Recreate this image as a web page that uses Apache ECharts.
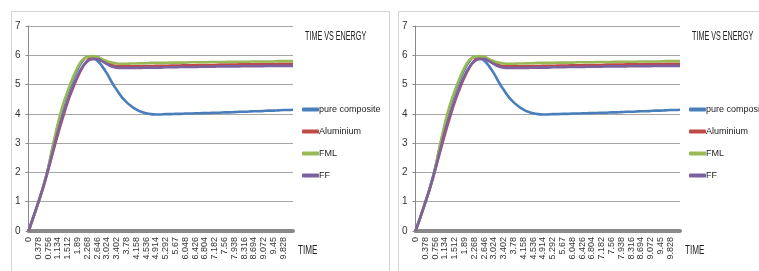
<!DOCTYPE html>
<html>
<head>
<meta charset="utf-8">
<script src="https://cdn.jsdelivr.net/npm/echarts@6/dist/echarts.min.js"></script>
<style>
  html, body { margin: 0; padding: 0; background: #fff; width: 759px; height: 271px; overflow: hidden; }
  .panel { position: absolute; top: 11px; height: 262px; border: 1px solid #d4d4d4; box-sizing: border-box; }
  #left { left: 11px; width: 379px; }
  #right { left: 398px; width: 375px; }
</style>
</head>
<body>
<div class="panel" id="left"></div>
<div class="panel" id="right"></div>
<script>
(function() {
  // time steps (x categories)
  var times = [
    "0", "0.189", "0.378", "0.567", "0.756", "0.945", "1.134", "1.323", "1.512", "1.701",
    "1.89", "2.079", "2.268", "2.457", "2.646", "2.835", "3.024", "3.213", "3.402", "3.591",
    "3.78", "3.969", "4.158", "4.347", "4.536", "4.725", "4.914", "5.103", "5.292", "5.481",
    "5.67", "5.859", "6.048", "6.237", "6.426", "6.615", "6.804", "6.993", "7.182", "7.371",
    "7.56", "7.749", "7.938", "8.127", "8.316", "8.505", "8.694", "8.883", "9.072", "9.261",
    "9.45", "9.639", "9.828", "10.017", "10.206"
  ];

  var pureComposite = [
    0, 0.48, 0.98, 1.52, 2.15, 2.9, 3.6, 4.22, 4.72, 5.15,
    5.52, 5.8, 5.94, 5.94, 5.82, 5.63, 5.38, 5.08, 4.82, 4.58,
    4.4, 4.26, 4.15, 4.07, 4.02, 3.99, 3.98, 3.98, 3.99, 3.99,
    4.0, 4.0, 4.01, 4.01, 4.02, 4.02, 4.03, 4.03, 4.04, 4.04,
    4.05, 4.05, 4.06, 4.07, 4.07, 4.08, 4.09, 4.09, 4.1, 4.11,
    4.11, 4.12, 4.13, 4.13, 4.14
  ];
  var aluminium = [
    0, 0.48, 0.98, 1.5, 2.08, 2.7, 3.3, 3.87, 4.4, 4.85,
    5.25, 5.58, 5.82, 5.93, 5.93, 5.85, 5.75, 5.67, 5.63, 5.62,
    5.62, 5.62, 5.62, 5.63, 5.63, 5.63, 5.64, 5.64, 5.64, 5.65,
    5.65, 5.65, 5.66, 5.66, 5.66, 5.67, 5.67, 5.67, 5.67, 5.68,
    5.68, 5.68, 5.68, 5.69, 5.69, 5.69, 5.69, 5.7, 5.7, 5.7,
    5.7, 5.71, 5.71, 5.71, 5.71
  ];
  var fml = [
    0, 0.48, 0.98, 1.52, 2.15, 2.95, 3.68, 4.3, 4.78, 5.22,
    5.58, 5.84, 5.95, 5.97, 5.94, 5.87, 5.8, 5.75, 5.72, 5.71,
    5.71, 5.72, 5.72, 5.73, 5.73, 5.74, 5.74, 5.74, 5.74, 5.75,
    5.75, 5.75, 5.75, 5.76, 5.76, 5.76, 5.76, 5.77, 5.77, 5.77,
    5.77, 5.78, 5.78, 5.78, 5.78, 5.78, 5.79, 5.79, 5.79, 5.79,
    5.79, 5.8, 5.8, 5.8, 5.8
  ];
  var ff = [
    0, 0.48, 0.98, 1.5, 2.1, 2.75, 3.4, 3.95, 4.47, 4.92,
    5.3, 5.6, 5.79, 5.87, 5.87, 5.8, 5.7, 5.62, 5.58, 5.57,
    5.57, 5.57, 5.57, 5.57, 5.58, 5.58, 5.58, 5.58, 5.59, 5.59,
    5.59, 5.6, 5.6, 5.6, 5.6, 5.61, 5.61, 5.61, 5.61, 5.62,
    5.62, 5.62, 5.62, 5.62, 5.63, 5.63, 5.63, 5.63, 5.63, 5.64,
    5.64, 5.64, 5.64, 5.64, 5.64
  ];

  var seriesNames = ["pure composite", "Aluminium", "FML", "FF"];
  var seriesData = [pureComposite, aluminium, fml, ff];
  var color = ["#4a7ebb", "#be4b48", "#98b954", "#7d60a0"]; // excel colours

  var font = "'Liberation Sans', Arial, sans-serif";

  function makeChart(el) {
    var myChart = echarts.init(el);
    var series = seriesNames.map(function(name, i) {
      return {
        name: name,
        type: "line",
        smooth: true,
        showSymbol: false,
        data: seriesData[i],
        lineStyle: { width: 2.6, color: color[i] },
        itemStyle: { color: color[i] }
      };
    });
    var option = {
      animation: false,
      color: color,
      // narrow texts, squeezed like the excel font
      graphic: [{
        type: "text",
        left: 293,
        top: 19,
        scaleX: 0.6,
        style: { text: "TIME VS ENERGY", font: "12px " + font, fill: "#222" }
      }, {
        type: "text",
        left: 286,
        top: 233,
        scaleX: 0.68,
        style: { text: "TIME", font: "12px " + font, fill: "#222" }
      }],
      legend: {
        orient: "vertical",
        left: 285,
        top: 88,
        itemWidth: 17,
        itemHeight: 4,
        itemGap: 13,
        icon: "roundRect",
        data: seriesNames,
        textStyle: { fontFamily: font, fontSize: 9, color: "#222", padding: [0, 0, 0, -5] }
      },
      grid: { left: 16, top: 14, width: 265, height: 205, containLabel: false },
      xAxis: {
        type: "category",
        data: times,
        boundaryGap: false,
        axisLine: { lineStyle: { color: "#8a8a8a", width: 4 } },
        axisTick: { show: false },
        axisLabel: {
          rotate: 90,
          fontSize: 9,
          color: "#333",
          margin: 6,
          interval: function(index) { return index % 2 === 0 && index < 54; }
        },
        splitLine: { show: false }
      },
      yAxis: {
        type: "value",
        min: 0,
        max: 7,
        interval: 1,
        axisLine: { show: true, lineStyle: { color: "#8a8a8a", width: 1 } },
        axisTick: { show: true, length: 3, lineStyle: { color: "#8a8a8a" } },
        axisLabel: { fontSize: 10, color: "#333", margin: 8 },
        splitLine: { lineStyle: { color: "#a6a6a6", width: 1 } }
      },
      series: series
    };
    myChart.setOption(option);
    return myChart;
  }

  makeChart(document.getElementById("left"));
  makeChart(document.getElementById("right"));
})();
</script>
</body>
</html>
